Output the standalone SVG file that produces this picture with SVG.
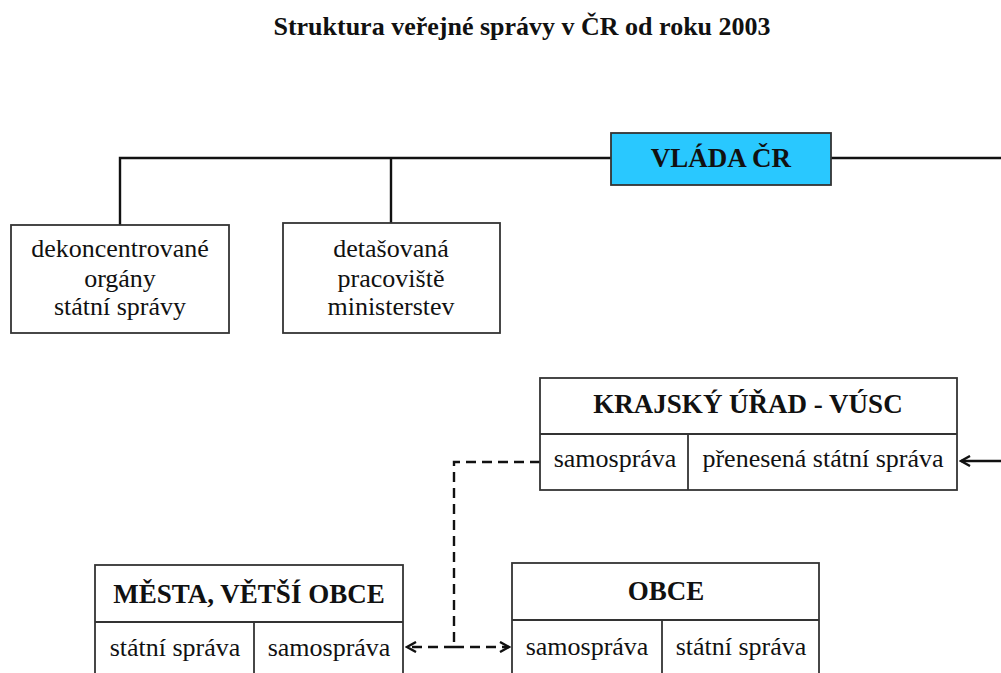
<svg xmlns="http://www.w3.org/2000/svg" width="1001" height="673" viewBox="0 0 1001 673">
<style>
.box{fill:#fff;stroke:#333;stroke-width:1.8}
.ln{fill:none;stroke:#111;stroke-width:2.4}
.dash{fill:none;stroke:#111;stroke-width:2.4;stroke-dasharray:10,6}
.t{font-family:"Liberation Serif","Times New Roman",serif;font-size:26px;fill:#111;text-anchor:middle}
.h{font-family:"Liberation Serif","Times New Roman",serif;font-size:27px;font-weight:bold;fill:#111;text-anchor:middle}
</style>
<defs>
<marker id="arr" markerWidth="12" markerHeight="12" refX="10" refY="6" orient="auto" markerUnits="userSpaceOnUse">
<path d="M1,1 L10,6 L1,11" fill="none" stroke="#111" stroke-width="2.4"/>
</marker>
</defs>
<rect width="1001" height="673" fill="#fff"/>
<text x="522" y="35" font-family="Liberation Serif,Times New Roman,serif" font-size="26" font-weight="bold" text-anchor="middle" fill="#111">Struktura veřejné správy v ČR od roku  2003</text>
<g id="connectors">
<path class="ln" d="M120,225 V158 H611 M831,158 H1001 M391,158 V223"/>
<path class="ln" d="M1001,461 H961" marker-end="url(#arr)"/>
<path class="dash" d="M540,462 H454 V647"/>
<path class="dash" d="M454,647 H407" marker-end="url(#arr)"/>
<path class="dash" d="M454,647 H509" marker-end="url(#arr)"/>
</g>
<g id="vlada">
<rect x="611" y="133" width="220" height="52" fill="#29C8FF" stroke="#333" stroke-width="1.8"/>
<text class="h" x="721" y="167">VLÁDA ČR</text>
</g>
<g id="dekoncentrovane">
<rect class="box" x="11" y="225" width="218" height="108"/>
<text class="t" x="120" y="257">dekoncentrované</text>
<text class="t" x="120" y="287">orgány</text>
<text class="t" x="120" y="315">státní správy</text>
</g>
<g id="detasovana">
<rect class="box" x="283" y="223" width="217" height="110"/>
<text class="t" x="391" y="257">detašovaná</text>
<text class="t" x="391" y="287">pracoviště</text>
<text class="t" x="391" y="315">ministerstev</text>
</g>
<g id="krajsky">
<rect class="box" x="540" y="378" width="417" height="112"/>
<line class="box" x1="540" y1="434" x2="957" y2="434"/>
<line class="box" x1="688" y1="434" x2="688" y2="490"/>
<text class="h" x="748" y="413">KRAJSKÝ ÚŘAD - VÚSC</text>
<text class="t" x="615" y="467">samospráva</text>
<text class="t" x="823" y="467">přenesená státní správa</text>
</g>
<g id="mesta">
<rect class="box" x="95" y="565" width="308" height="120"/>
<line class="box" x1="95" y1="622" x2="403" y2="622"/>
<line class="box" x1="254" y1="622" x2="254" y2="673"/>
<text class="h" x="249" y="603">MĚSTA, VĚTŠÍ OBCE</text>
<text class="t" x="175" y="656">státní správa</text>
<text class="t" x="329" y="656">samospráva</text>
</g>
<g id="obce">
<rect class="box" x="512" y="563" width="307" height="120"/>
<line class="box" x1="512" y1="620" x2="819" y2="620"/>
<line class="box" x1="662" y1="620" x2="662" y2="673"/>
<text class="h" x="666" y="600">OBCE</text>
<text class="t" x="587" y="655">samospráva</text>
<text class="t" x="741" y="655">státní správa</text>
</g>
</svg>
